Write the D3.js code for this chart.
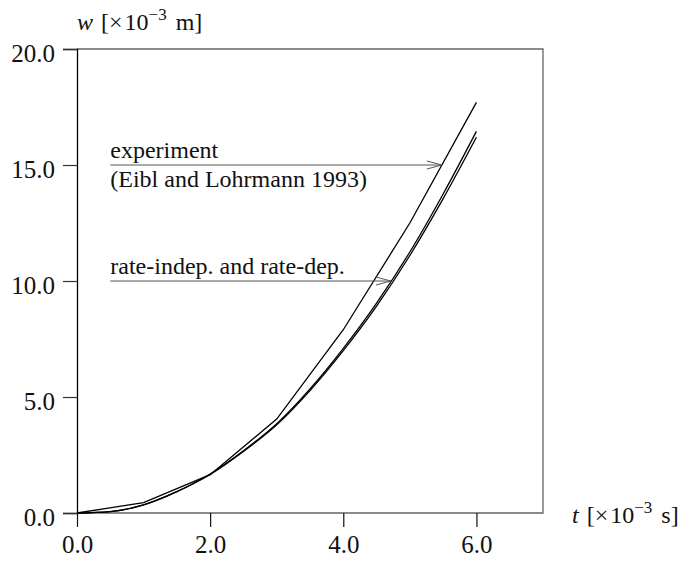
<!DOCTYPE html>
<html lang="en">
<head>
<meta charset="UTF-8">
<title>w vs t</title>
<script src="https://d3js.org/d3.v7.min.js"></script>
<style>
  body { margin: 0; background: #fff; }
  svg text { font-family: "Liberation Serif", "Times New Roman", "DejaVu Serif", serif; fill: #111; }
</style>
</head>
<body>
<svg id="chart" width="692" height="564"></svg>
<script>
// t [1e-3 s]
const tExp = [0, 1, 2, 3, 4, 5, 6];
const wExp = [0, 0.45, 1.65, 4.05, 7.9, 12.5, 17.7];

const tSim = [0, 0.5, 1, 1.5, 2, 2.5, 3, 3.5, 4, 4.5, 5, 5.5, 6];
const wRateIndep = [0, 0.06, 0.35, 0.92, 1.68, 2.68, 3.85, 5.35, 7.1, 9.05, 11.25, 13.75, 16.45];
const wRateDep   = [0, 0.06, 0.35, 0.92, 1.66, 2.65, 3.8, 5.28, 7.0, 8.92, 11.1, 13.55, 16.2];

const xTicks = [0, 2, 4, 6];
const yTicks = [0, 5, 10, 15, 20];

const svg = d3.select('#chart');

const x = d3.scaleLinear().domain([0, 7]).range([77, 543]);
const y = d3.scaleLinear().domain([0, 20]).range([513, 49]);
const fmt = d3.format('.1f');

// frame (top, right, bottom in grey)
svg.append('path')
  .attr('d', `M${x(0)},${y(20)}H${x(7)}V${y(0)}H${x(0)}`)
  .attr('fill', 'none').attr('stroke', '#666').attr('stroke-width', 1.3);

// y axis
const yAxis = svg.append('g')
  .attr('transform', `translate(${x(0)},0)`)
  .call(d3.axisLeft(y).tickValues(yTicks).tickFormat(fmt).tickSize(14).tickPadding(8));
yAxis.select('.domain').attr('stroke', '#000').attr('stroke-width', 1.3);
yAxis.selectAll('.tick line').attr('stroke', '#333').attr('stroke-width', 1.2);
yAxis.selectAll('text').attr('font-size', 25).attr('dy', '0.5em')
  .style('font-family', '"Liberation Serif", "Times New Roman", serif').attr('fill', '#111');

// x axis
const xAxis = svg.append('g')
  .attr('transform', `translate(0,${y(0)})`)
  .call(d3.axisBottom(x).tickValues(xTicks).tickFormat(fmt).tickSize(14).tickPadding(8));
xAxis.select('.domain').remove();
xAxis.selectAll('.tick line').attr('stroke', '#111').attr('stroke-width', 1.2);
xAxis.selectAll('text').attr('font-size', 25)
  .style('font-family', '"Liberation Serif", "Times New Roman", serif').attr('fill', '#111');

// axis titles
function unitLabel(px, py, sym, unit) {
  const t = svg.append('text').attr('x', px).attr('y', py).attr('font-size', 24);
  t.append('tspan').attr('font-style', 'italic').text(sym);
  t.append('tspan').attr('dx', 8).text('[\u00d7');
  t.append('tspan').attr('dx', 2).text('10');
  t.append('tspan').attr('dy', -10).attr('font-size', 17).text('\u22123');
  t.append('tspan').attr('dy', 10).attr('dx', 9).text(unit + ']');
}
unitLabel(77, 30, 'w', 'm');
unitLabel(572, 523, 't', 's');

// curves
const line = d3.line().x(d => x(d[0])).y(d => y(d[1]));
const smooth = d3.line().x(d => x(d[0])).y(d => y(d[1])).curve(d3.curveMonotoneX);

svg.append('path').datum(d3.zip(tExp, wExp)).attr('d', line)
  .attr('fill', 'none').attr('stroke', '#000').attr('stroke-width', 1.3);
svg.append('path').datum(d3.zip(tSim, wRateIndep)).attr('d', smooth)
  .attr('fill', 'none').attr('stroke', '#000').attr('stroke-width', 1.3);
svg.append('path').datum(d3.zip(tSim, wRateDep)).attr('d', smooth)
  .attr('fill', 'none').attr('stroke', '#000').attr('stroke-width', 1.3);

// where a series crosses a given w
function crossT(ts, ws, w) {
  for (let i = 1; i < ws.length; i++) {
    if (ws[i] >= w) return ts[i - 1] + (w - ws[i - 1]) / (ws[i] - ws[i - 1]) * (ts[i] - ts[i - 1]);
  }
  return ts[ts.length - 1];
}

// annotations with open arrowheads
function annotate(lines, wAt, tTip) {
  const x0 = x(0.5), yy = y(wAt), xt = x(tTip);
  svg.append('path').attr('d', `M${x0},${yy}H${xt}`)
    .attr('stroke', '#555').attr('stroke-width', 1).attr('fill', 'none');
  svg.append('path').attr('d', `M${xt - 15},${yy - 4}L${xt},${yy}L${xt - 15},${yy + 4}`)
    .attr('stroke', '#555').attr('stroke-width', 1).attr('fill', 'none');
  svg.append('text').attr('x', x0).attr('y', yy - 7).attr('font-size', 24).text(lines[0]);
  if (lines[1]) svg.append('text').attr('x', x0).attr('y', yy + 22).attr('font-size', 24).text(lines[1]);
}
annotate(['experiment', '(Eibl and Lohrmann 1993)'], 15, crossT(tExp, wExp, 15));
annotate(['rate-indep. and rate-dep.'], 10, crossT(tSim, wRateIndep, 10));
</script>
</body>
</html>
